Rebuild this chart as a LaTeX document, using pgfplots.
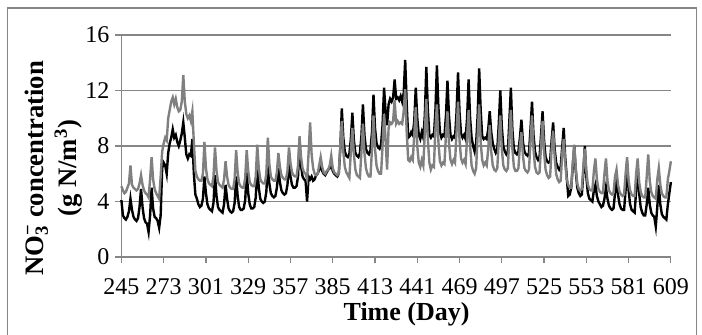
\documentclass[border=0pt]{standalone}
\usepackage{fontspec}
\setmainfont{Liberation Serif}
\usepackage{pgfplots}
\pgfplotsset{compat=1.18}
\usepackage{pgfplotstable}
\definecolor{grayline}{RGB}{128,128,128}
\definecolor{gridc}{RGB}{134,134,134}
\pgfplotstableread{
d b g
245 4.1 5.1
246 3.0 4.8
247 2.8 4.6
248 2.7 4.7
249 2.9 5.0
250 3.3 5.3
251 4.2 6.6
252 3.4 5.2
253 2.9 5.0
254 2.7 4.9
255 2.6 4.8
256 2.8 4.9
257 3.6 5.3
258 4.9 5.9
259 3.6 5.2
260 2.8 4.8
261 2.5 4.6
262 2.4 4.5
263 1.8 4.3
264 3.0 5.6
265 5.0 7.2
266 3.5 5.6
267 2.9 4.9
268 2.8 4.6
269 2.6 4.4
270 2.1 4.2
271 3.0 5.8
272 6.4 7.6
273 6.8 8.2
274 6.6 8.6
275 6.0 8.4
276 7.5 10.0
277 8.2 10.6
278 8.6 11.2
279 9.2 11.5
280 8.6 11.0
281 8.8 11.4
282 8.3 10.8
283 8.0 10.5
284 8.4 10.6
285 8.9 11.2
286 9.7 13.1
287 8.6 11.2
288 7.4 10.3
289 7.1 10.0
290 7.4 10.2
291 7.3 9.8
292 8.5 10.5
293 6.0 8.2
294 4.5 6.2
295 4.2 5.8
296 3.8 5.6
297 3.6 5.5
298 3.7 5.5
299 4.2 6.0
300 5.8 8.3
301 4.6 6.4
302 3.8 5.6
303 3.5 5.3
304 3.4 5.2
305 3.3 5.1
306 3.9 5.8
307 5.9 7.9
308 4.4 6.2
309 3.6 5.4
310 3.4 5.2
311 3.3 5.1
312 3.2 5.0
313 3.8 5.6
314 5.2 6.9
315 4.2 5.8
316 3.5 5.2
317 3.3 5.0
318 3.2 4.9
319 3.3 4.9
320 3.9 5.6
321 5.8 7.7
322 4.4 6.1
323 3.6 5.3
324 3.4 5.1
325 3.4 5.0
326 3.5 5.0
327 4.1 5.7
328 6.1 7.7
329 4.6 6.2
330 3.8 5.4
331 3.5 5.2
332 3.5 5.1
333 3.6 5.1
334 4.3 5.8
335 6.5 8.1
336 5.0 6.4
337 4.2 5.6
338 4.0 5.4
339 3.9 5.3
340 4.0 5.3
341 4.7 6.0
342 6.6 8.6
343 5.3 6.7
344 4.6 5.8
345 4.4 5.6
346 4.3 5.5
347 4.4 5.5
348 5.0 6.1
349 6.4 7.5
350 5.4 6.5
351 4.8 5.9
352 4.6 5.7
353 4.5 5.6
354 4.6 5.6
355 5.2 6.2
356 6.8 7.9
357 5.8 6.8
358 5.2 6.1
359 5.0 5.9
360 5.0 5.8
361 5.1 5.8
362 5.8 6.6
363 8.3 8.7
364 6.6 7.2
365 5.8 6.4
366 5.6 6.1
367 5.5 6.0
368 4.0 5.6
369 5.8 7.5
370 5.6 9.7
371 5.8 7.4
372 5.5 6.4
373 5.6 6.0
374 5.9 5.9
375 6.0 6.0
376 6.3 6.6
377 6.6 7.2
378 6.2 6.5
379 6.0 6.1
380 5.9 6.0
381 6.1 6.2
382 6.3 6.3
383 6.4 6.6
384 6.8 7.3
385 6.2 6.4
386 6.0 6.1
387 5.9 6.0
388 5.8 5.9
389 6.0 6.0
390 7.8 8.0
391 10.7 9.8
392 8.6 7.6
393 7.6 6.5
394 7.3 6.1
395 7.2 5.9
396 7.4 5.7
397 8.5 7.6
398 10.4 9.3
399 8.4 7.4
400 7.5 6.3
401 7.3 5.9
402 7.2 5.8
403 7.5 5.7
404 8.7 7.6
405 11.0 9.6
406 8.8 7.5
407 7.8 6.4
408 7.5 6.0
409 7.4 5.8
410 7.7 5.8
411 9.0 7.8
412 11.7 10.2
413 9.3 7.8
414 8.2 6.6
415 7.9 6.2
416 7.8 6.0
417 8.1 6.0
418 9.5 8.0
419 12.2 10.3
420 10.5 8.5
421 9.5 6.3
422 11.0 9.3
423 11.4 9.7
424 11.2 9.6
425 11.5 9.8
426 12.8 11.3
427 11.4 9.6
428 11.5 9.8
429 11.3 9.6
430 11.6 9.7
431 11.2 9.6
432 11.8 10.5
433 14.2 12.1
434 11.0 9.0
435 8.6 7.0
436 8.7 6.9
437 9.0 7.2
438 8.8 7.0
439 9.8 8.8
440 12.2 10.8
441 10.0 8.0
442 8.8 6.8
443 8.5 6.5
444 9.0 7.0
445 8.6 6.6
446 10.2 9.0
447 13.7 11.4
448 10.6 8.5
449 8.8 6.8
450 8.6 6.3
451 8.8 6.6
452 8.7 6.5
453 10.5 9.2
454 13.8 11.0
455 10.8 8.3
456 9.0 6.9
457 8.6 6.6
458 8.8 6.8
459 8.7 6.7
460 10.2 8.8
461 12.7 10.5
462 10.2 8.2
463 8.8 7.0
464 8.5 6.7
465 8.7 7.0
466 8.6 6.8
467 10.4 9.0
468 13.3 11.2
469 10.4 8.4
470 8.9 7.1
471 8.6 6.8
472 8.8 7.0
473 8.5 6.7
474 10.0 8.6
475 12.8 10.6
476 10.0 8.0
477 8.6 6.6
478 8.0 6.2
479 7.6 6.0
480 8.2 6.4
481 10.2 8.8
482 13.6 11.0
483 10.6 8.3
484 8.7 7.0
485 8.5 6.6
486 8.6 6.8
487 8.5 6.6
488 9.2 7.8
489 10.5 9.5
490 9.0 7.6
491 8.2 6.6
492 7.8 6.3
493 7.5 6.2
494 7.7 6.4
495 9.6 8.4
496 12.0 10.2
497 9.4 7.8
498 8.0 6.6
499 7.6 6.3
500 7.4 6.2
501 7.6 6.4
502 9.8 8.6
503 12.2 10.6
504 9.2 7.8
505 7.8 6.5
506 7.5 6.2
507 7.4 6.2
508 7.6 6.4
509 8.6 8.0
510 9.9 9.0
511 8.3 7.3
512 7.6 6.4
513 7.4 6.2
514 7.3 6.1
515 7.5 6.3
516 9.2 8.3
517 11.2 10.2
518 8.8 7.8
519 7.6 6.5
520 7.2 6.1
521 7.0 6.0
522 7.2 6.1
523 8.8 8.0
524 10.5 9.8
525 8.4 7.6
526 7.2 6.3
527 6.9 5.9
528 6.8 5.7
529 6.9 5.8
530 8.4 7.8
531 9.7 9.1
532 7.8 7.2
533 6.8 6.0
534 6.5 5.6
535 6.3 5.4
536 6.5 5.5
537 7.9 7.4
538 9.3 8.5
539 7.2 6.8
540 5.8 5.6
541 4.4 5.2
542 4.5 5.0
543 5.0 5.0
544 6.5 6.8
545 8.0 8.1
546 6.2 6.4
547 5.0 5.3
548 4.6 4.9
549 4.4 4.8
550 4.5 4.9
551 6.0 6.5
552 8.0 7.8
553 5.8 6.2
554 4.6 5.2
555 4.2 4.9
556 4.1 4.8
557 4.0 4.8
558 4.8 6.2
559 5.2 7.1
560 4.4 5.6
561 4.0 4.9
562 3.8 4.7
563 3.6 4.6
564 3.7 4.6
565 4.2 6.0
566 5.0 7.1
567 4.2 5.5
568 3.7 4.8
569 3.5 4.6
570 3.4 4.5
571 3.5 4.6
572 4.6 5.8
573 5.8 6.3
574 4.5 5.2
575 3.8 4.7
576 3.5 4.5
577 3.4 4.4
578 3.4 4.5
579 4.8 6.0
580 6.8 7.2
581 4.8 5.5
582 3.8 4.8
583 3.4 4.5
584 3.3 4.4
585 3.2 4.4
586 4.8 6.0
587 6.5 7.1
588 4.6 5.4
589 3.6 4.7
590 3.2 4.4
591 3.0 4.3
592 3.0 4.3
593 3.8 5.8
594 5.0 7.4
595 3.8 5.5
596 3.2 4.7
597 3.0 4.4
598 2.9 4.3
599 2.2 4.2
600 3.6 5.6
601 5.2 6.4
602 3.8 5.2
603 3.1 4.6
604 2.9 4.4
605 2.8 4.3
606 2.7 4.3
607 3.8 5.6
608 4.6 6.2
609 5.4 6.9
}\datatab
\begin{document}
\begin{tikzpicture}
\path[use as bounding box] (-91.05pt,-57.75pt) rectangle (435.4pt,192.75pt);
\draw[gridc, line width=0.8pt] (-85.4pt,-70pt) -- (-85.4pt,186.75pt) -- (431pt,186.75pt) -- (431pt,-70pt);
\begin{axis}[
  at={(0pt,0pt)}, anchor=south west,
  scale only axis, width=412.05pt, height=166.5pt,
  xmin=245, xmax=609, ymin=0, ymax=16,
  xtick={245,273,...,609}, ytick={0,4,8,12,16},
  axis x line*=bottom, axis y line*=left,
  axis line style={gridc, line width=0.9pt, -},
  tick align=outside, major tick length=4.5pt,
  tick style={gridc, line width=0.9pt},
  ymajorgrids, grid style={gridc, line width=0.9pt},
  /pgf/number format/assume math mode=true,
  /pgf/number format/1000 sep={},
  ticklabel style={font=\fontsize{18}{20}\selectfont},
  xticklabel style={anchor=base, inner sep=0pt, yshift=-23.25pt},
  yticklabel style={anchor=east, inner sep=0pt, xshift=-4.3pt},
  clip=false,
]
\addplot[black, line width=1.8pt] table[x=d, y=b] {\datatab};
\addplot[grayline, line width=1.8pt] table[x=d, y=g] {\datatab};
\node[rotate=90, align=center, font=\bfseries\fontsize{20}{24.75}\selectfont, anchor=center] at (rel axis cs:-0.1227,0.399) {NO\rlap{\textsubscript{3}}\textsuperscript{−} concentration\\(g N/m\textsuperscript{3})};
\node[font=\bfseries\fontsize{19.5}{20}\selectfont, anchor=base] at (rel axis cs:0.519,-0.2838) {Time (Day)};
\end{axis}
\end{tikzpicture}
\end{document}
